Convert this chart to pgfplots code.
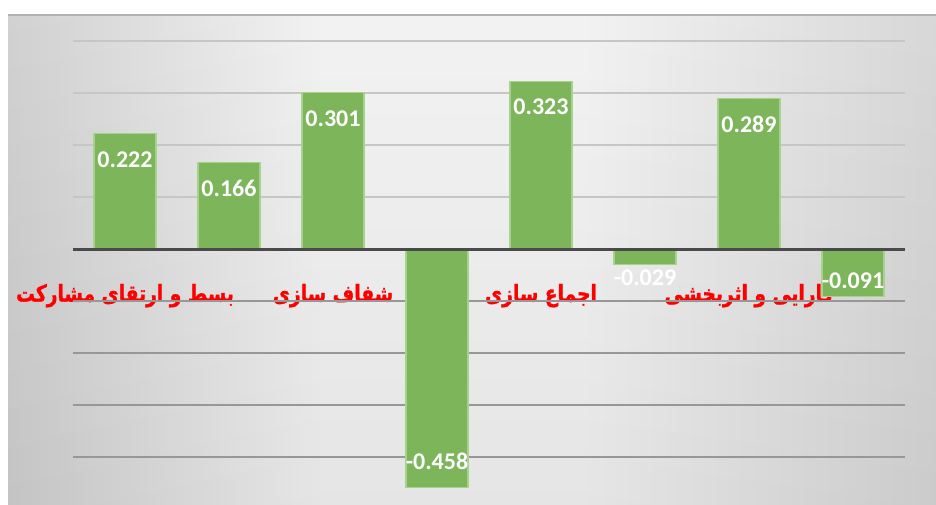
\documentclass[border=0pt]{standalone}
\usepackage{pgfplots}
\pgfplotsset{compat=1.18}
\usepackage{pgfplotstable}
\usepackage{fontspec}
\setmainfont{Carlito}
\newfontfamily\arabicfont[Script=Arabic, FakeStretch=0.8, FakeBold=1.2]{DejaVu Sans Bold}
\TeXXeTstate=1
\definecolor{barg}{HTML}{7CB55A}
\definecolor{baredge}{HTML}{A9D18E}
\definecolor{bgL}{HTML}{CFCFCF}
\definecolor{bgM}{HTML}{F2F2F2}
\definecolor{bgR}{HTML}{D6D6D6}
\definecolor{gridup}{HTML}{C6C6C6}
\definecolor{griddown}{HTML}{979797}
\definecolor{zeroc}{HTML}{4A4A4A}
\pgfdeclarehorizontalshading{panelbg}{100bp}{color(0bp)=(bgL); color(25bp)=(bgL); color(42bp)=(bgM); color(56bp)=(bgM); color(75bp)=(bgR); color(100bp)=(bgR)}

\pgfplotstableread{
x y ly lab
0 0.222 0.172 0.222
1 0.166 0.116 0.166
2 0.301 0.251 0.301
3 -0.458 -0.408 -0.458
4 0.323 0.273 0.323
5 -0.029 -0.056 -0.029
6 0.289 0.239 0.289
7 -0.091 -0.060 -0.091
}\data

\begin{document}
\begin{tikzpicture}
\useasboundingbox (0,0) rectangle (702pt,378.75pt);
\shade[shading=panelbg] (6pt,0pt) rectangle (702pt,367.5pt);
\shade[top color=white, bottom color=black, opacity=0.05] (6pt,0pt) rectangle (702pt,367.5pt);
\draw[color=black!30, line width=2pt] (6pt,367.5pt) -- (702pt,367.5pt);
\begin{axis}[
  at={(54.75pt,0pt)}, anchor=south west,
  scale only axis, width=624pt, height=367.5pt,
  xmin=-0.5, xmax=7.5, ymin=-0.492, ymax=0.45,
  axis line style={draw=none},
  major tick length=0pt,
  ytick={0.1,0.2,0.3,0.4},
  yticklabels={},
  ymajorgrids,
  grid style={gridup, line width=1.5pt},
  extra y ticks={-0.4,-0.3,-0.2,-0.1},
  extra y tick labels={},
  extra y tick style={grid style={griddown, line width=1.5pt}},
  xtick={0,2,4,6},
  xticklabels={{\arabicfont\beginR بسط و ارتقای مشارکت\endR},{\arabicfont\beginR شفاف سازی\endR},{\arabicfont\beginR اجماع سازی\endR},{\arabicfont\beginR کارایی و اثربخشی\endR}},
  xticklabel style={anchor=center, yshift=157pt, text=red, font=\fontsize{17.5}{17.5}\selectfont},
  clip=false,
]
\addplot[ybar, bar width=46.5pt, fill=barg, draw=baredge, line width=0.8pt] table[x=x, y=y] {\data};
\draw[zeroc, line width=2.2pt] (axis cs:-0.5,0) -- (axis cs:7.5,0);
\addplot[draw=none, mark=none, nodes near coords, point meta=explicit symbolic,
  nodes near coords style={anchor=center, text=white, font=\bfseries\fontsize{18}{18}\selectfont}]
  table[x=x, y=ly, meta=lab] {\data};
\end{axis}
\end{tikzpicture}
\end{document}
